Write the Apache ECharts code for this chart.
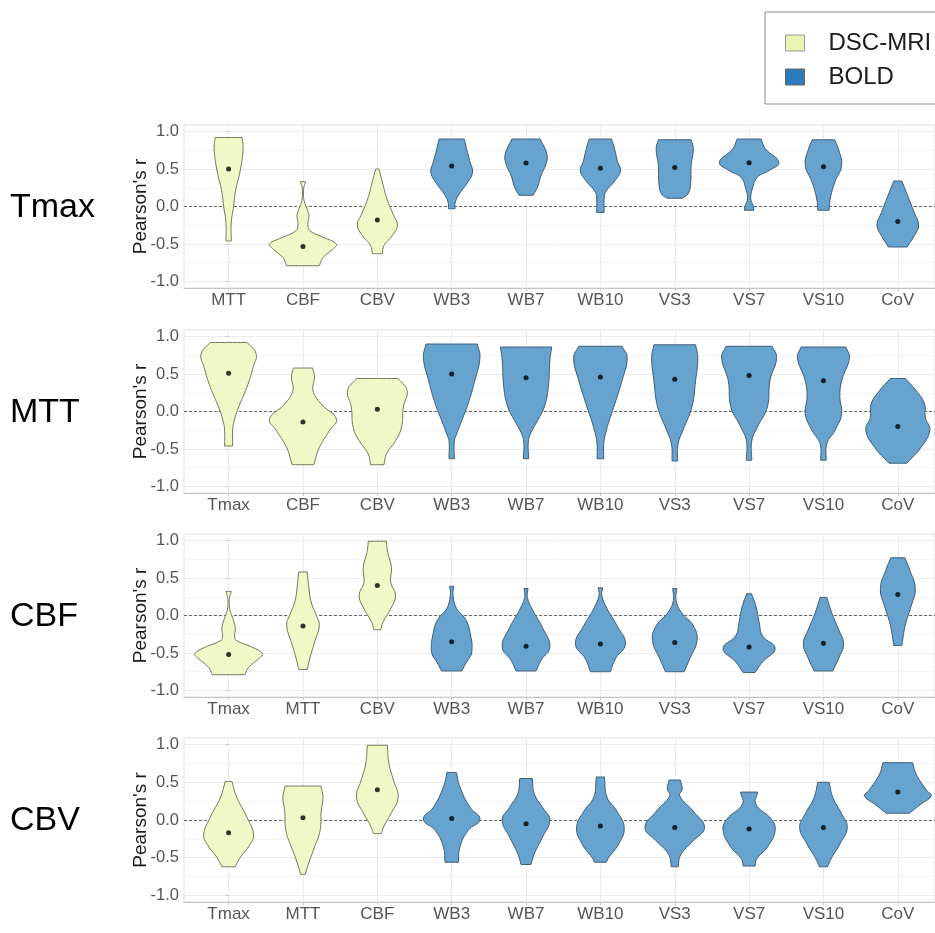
<!DOCTYPE html>
<html>
<head>
<meta charset="utf-8">
<title>Pearson's r violins</title>
<script src="https://cdn.jsdelivr.net/npm/echarts@6/dist/echarts.min.js"></script>
<style>
    html, body { margin: 0; padding: 0; background: #fff; }
    #main { width: 935px; height: 933px; }
</style>
</head>
<body>
<div id="main"></div>
<script>
// row titles, one per panel
var rowNames = ['Tmax', 'MTT', 'CBF', 'CBV'];
// x categories of each panel (first 3 are DSC-MRI, rest BOLD)
var catsTmax = ['MTT', 'CBF', 'CBV', 'WB3', 'WB7', 'WB10', 'VS3', 'VS7', 'VS10', 'CoV'];
var catsMTT = ['Tmax', 'CBF', 'CBV', 'WB3', 'WB7', 'WB10', 'VS3', 'VS7', 'VS10', 'CoV'];
var catsCBF = ['Tmax', 'MTT', 'CBV', 'WB3', 'WB7', 'WB10', 'VS3', 'VS7', 'VS10', 'CoV'];
var catsCBV = ['Tmax', 'MTT', 'CBF', 'WB3', 'WB7', 'WB10', 'VS3', 'VS7', 'VS10', 'CoV'];
var dscCount = 3;
var yTicks = [-1, -0.5, 0, 0.5, 1];
var yMinor = [-0.75, -0.25, 0.25, 0.75];

// violin outlines: [r, half width (category units)], top -> bottom
var violinTmax = [
    [[0.92, 0.18], [0.78, 0.195], [0.5, 0.16], [0.19, 0.09], [0, 0.067], [-0.21, 0.036], [-0.46, 0.036]],
    [[0.33, 0.036], [0.26, 0.013], [0.15, 0.007], [0.05, 0.022], [-0.03, 0.054], [-0.12, 0.08], [-0.23, 0.067], [-0.32, 0.09], [-0.41, 0.27], [-0.5, 0.45], [-0.57, 0.4], [-0.68, 0.27], [-0.79, 0.22]],
    [[0.5, 0.022], [0.33, 0.067], [0.1, 0.13], [-0.12, 0.22], [-0.25, 0.27], [-0.39, 0.2], [-0.52, 0.09], [-0.63, 0.067]],
    [[0.9, 0.17], [0.77, 0.2], [0.6, 0.245], [0.46, 0.28], [0.33, 0.22], [0.15, 0.09], [0.04, 0.045], [-0.03, 0.045]],
    [[0.9, 0.19], [0.7, 0.28], [0.57, 0.27], [0.41, 0.2], [0.26, 0.155], [0.15, 0.094]],
    [[0.9, 0.15], [0.77, 0.19], [0.6, 0.23], [0.48, 0.27], [0.35, 0.2], [0.19, 0.067], [0.1, 0.05], [-0.08, 0.05]],
    [[0.89, 0.22], [0.77, 0.25], [0.55, 0.22], [0.33, 0.215], [0.17, 0.18], [0.11, 0.1]],
    [[0.9, 0.16], [0.77, 0.22], [0.59, 0.4], [0.48, 0.27], [0.39, 0.11], [0.24, 0.045], [0.1, 0.022], [0.01, 0.054], [-0.05, 0.063]],
    [[0.89, 0.15], [0.77, 0.2], [0.55, 0.245], [0.33, 0.155], [0.1, 0.09], [-0.05, 0.076]],
    [[0.34, 0.054], [0.15, 0.13], [-0.08, 0.22], [-0.25, 0.28], [-0.39, 0.22], [-0.54, 0.125]]
];
var violinMTT = [
    [[0.92, 0.25], [0.77, 0.37], [0.59, 0.33], [0.32, 0.245], [0.06, 0.135], [-0.12, 0.076], [-0.25, 0.054], [-0.46, 0.054]],
    [[0.58, 0.13], [0.46, 0.155], [0.28, 0.135], [0.1, 0.245], [-0.1, 0.45], [-0.25, 0.36], [-0.48, 0.22], [-0.71, 0.145]],
    [[0.44, 0.28], [0.28, 0.4], [0.06, 0.35], [-0.21, 0.325], [-0.39, 0.245], [-0.56, 0.125], [-0.71, 0.09]],
    [[0.9, 0.345], [0.72, 0.38], [0.41, 0.31], [0.1, 0.22], [-0.12, 0.135], [-0.3, 0.067], [-0.39, 0.036], [-0.63, 0.036]],
    [[0.86, 0.345], [0.68, 0.32], [0.33, 0.3], [0.06, 0.245], [-0.12, 0.155], [-0.28, 0.067], [-0.41, 0.03], [-0.63, 0.036]],
    [[0.87, 0.29], [0.72, 0.36], [0.41, 0.29], [0.06, 0.18], [-0.25, 0.08], [-0.43, 0.045], [-0.63, 0.045]],
    [[0.89, 0.28], [0.72, 0.31], [0.41, 0.28], [0.06, 0.23], [-0.25, 0.11], [-0.43, 0.045], [-0.66, 0.036]],
    [[0.87, 0.31], [0.72, 0.37], [0.41, 0.28], [0.06, 0.245], [-0.21, 0.11], [-0.39, 0.036], [-0.65, 0.036]],
    [[0.86, 0.3], [0.72, 0.35], [0.41, 0.245], [0.19, 0.22], [-0.03, 0.245], [-0.25, 0.155], [-0.43, 0.045], [-0.65, 0.036]],
    [[0.44, 0.1], [0.28, 0.245], [0.1, 0.36], [-0.08, 0.37], [-0.25, 0.43], [-0.48, 0.31], [-0.69, 0.12]]
];
var violinCBF = [
    [[0.32, 0.036], [0.24, 0.013], [0.13, 0.009], [0.04, 0.027], [-0.07, 0.067], [-0.18, 0.09], [-0.27, 0.08], [-0.33, 0.1], [-0.42, 0.31], [-0.51, 0.455], [-0.58, 0.4], [-0.69, 0.27], [-0.79, 0.22]],
    [[0.58, 0.058], [0.4, 0.076], [0.18, 0.11], [0, 0.18], [-0.13, 0.22], [-0.36, 0.155], [-0.58, 0.09], [-0.72, 0.058]],
    [[0.99, 0.12], [0.84, 0.14], [0.64, 0.19], [0.44, 0.18], [0.27, 0.245], [0.09, 0.18], [-0.09, 0.076], [-0.19, 0.045]],
    [[0.39, 0.027], [0.27, 0.018], [0.09, 0.067], [-0.04, 0.18], [-0.22, 0.245], [-0.49, 0.27], [-0.62, 0.2], [-0.74, 0.135]],
    [[0.36, 0.027], [0.24, 0.018], [0.07, 0.09], [-0.16, 0.22], [-0.42, 0.32], [-0.6, 0.2], [-0.74, 0.135]],
    [[0.37, 0.031], [0.27, 0.018], [0.09, 0.09], [-0.13, 0.22], [-0.38, 0.335], [-0.58, 0.2], [-0.75, 0.135]],
    [[0.36, 0.027], [0.2, 0.018], [0.04, 0.09], [-0.13, 0.245], [-0.33, 0.3], [-0.58, 0.2], [-0.75, 0.125]],
    [[0.29, 0.031], [0.13, 0.09], [-0.09, 0.135], [-0.27, 0.18], [-0.44, 0.35], [-0.62, 0.18], [-0.76, 0.08]],
    [[0.24, 0.045], [0.04, 0.11], [-0.18, 0.2], [-0.38, 0.27], [-0.58, 0.2], [-0.74, 0.125]],
    [[0.77, 0.094], [0.62, 0.155], [0.36, 0.235], [0.13, 0.18], [-0.13, 0.1], [-0.4, 0.054]]
];
var violinCBV = [
    [[0.51, 0.045], [0.3, 0.11], [0.04, 0.245], [-0.19, 0.335], [-0.32, 0.29], [-0.5, 0.155], [-0.62, 0.09]],
    [[0.45, 0.24], [0.3, 0.27], [0.12, 0.245], [-0.14, 0.23], [-0.36, 0.155], [-0.56, 0.08], [-0.72, 0.031]],
    [[0.99, 0.135], [0.75, 0.155], [0.52, 0.22], [0.3, 0.28], [0.08, 0.18], [-0.08, 0.09], [-0.18, 0.054]],
    [[0.63, 0.063], [0.44, 0.11], [0.17, 0.245], [0.01, 0.38], [-0.14, 0.22], [-0.36, 0.11], [-0.56, 0.09]],
    [[0.55, 0.085], [0.35, 0.11], [0.17, 0.22], [0, 0.32], [-0.23, 0.22], [-0.45, 0.11], [-0.59, 0.067]],
    [[0.57, 0.054], [0.3, 0.09], [0.12, 0.22], [-0.1, 0.32], [-0.32, 0.245], [-0.5, 0.11], [-0.56, 0.08]],
    [[0.53, 0.076], [0.41, 0.1], [0.32, 0.067], [0.12, 0.245], [-0.1, 0.4], [-0.28, 0.245], [-0.46, 0.08], [-0.62, 0.045]],
    [[0.37, 0.115], [0.21, 0.09], [0.01, 0.3], [-0.14, 0.35], [-0.36, 0.245], [-0.52, 0.1], [-0.61, 0.08]],
    [[0.5, 0.076], [0.3, 0.125], [0.08, 0.245], [-0.1, 0.32], [-0.32, 0.22], [-0.5, 0.11], [-0.62, 0.054]],
    [[0.76, 0.2], [0.61, 0.245], [0.39, 0.39], [0.32, 0.45], [0.21, 0.31], [0.09, 0.155]]
];
// centre dots
var meanTmax = [0.50, -0.535, -0.18, 0.54, 0.58, 0.51, 0.52, 0.585, 0.53, -0.2];
var meanMTT = [0.51, -0.14, 0.03, 0.5, 0.45, 0.46, 0.43, 0.48, 0.41, -0.2];
var meanCBF = [-0.52, -0.14, 0.4, -0.35, -0.41, -0.38, -0.36, -0.42, -0.37, 0.28];
var meanCBV = [-0.17, 0.03, 0.4, 0.02, -0.05, -0.08, -0.1, -0.12, -0.1, 0.37];

var panels = [
    { cats: catsTmax, violins: violinTmax, means: meanTmax },
    { cats: catsMTT, violins: violinMTT, means: meanMTT },
    { cats: catsCBF, violins: violinCBF, means: meanCBF },
    { cats: catsCBV, violins: violinCBV, means: meanCBV }
];
var gridTops = [125, 330, 534, 738];
var gridHeights = [163, 163, 163, 164];

var fontFam = '"Liberation Sans", Arial, sans-serif';
var dscFill = '#f1f8c8', dscLine = '#74785c';
var boldFill = '#66a3cf', boldLine = '#3e5d77';

var myChart = echarts.init(document.getElementById('main'));

function violinRender(shapes) {
    return function (params, api) {
        var idx = api.value(0);
        var prof = shapes[idx];
        var n = prof.length;
        var left = [], right = [];
        for (var i = 0; i < n; i++) {
            left.push(api.coord([idx - prof[i][1], prof[i][0]]));
            right.push(api.coord([idx + prof[i][1], prof[i][0]]));
        }
        right.reverse();
        // doubled end points keep the trimmed ends flat
        var pts = [left[0]].concat(left, [left[n - 1]], [right[0]], right, [right[n - 1]]);
        return {
            type: 'polygon',
            shape: { points: pts, smooth: 0.45 },
            style: api.style()
        };
    };
}

var grids = [], xAxes = [], yAxes = [], series = [], texts = [];
var xTicks = [0, 1, 2, 3, 4, 5, 6, 7, 8, 9];

panels.forEach(function (p, k) {
    grids.push({
        left: 184, width: 752, top: gridTops[k], height: gridHeights[k],
        show: true, borderColor: '#dedede', borderWidth: 1
    });
    xAxes.push({
        type: 'value', gridIndex: k, min: -0.6, max: 9.5,
        axisLine: { show: true, onZero: false, lineStyle: { color: '#c4c4c4' } },
        axisTick: { show: true, customValues: xTicks, length: 3, lineStyle: { color: '#c4c4c4' } },
        axisLabel: {
            customValues: xTicks, margin: 4, fontSize: 17, color: '#555', fontFamily: fontFam,
            formatter: function (v) { return p.cats[Math.round(v)]; }
        },
        splitLine: { show: false }
    });
    yAxes.push({
        type: 'value', gridIndex: k, min: -1.087, max: 1.087,
        name: "Pearson's r", nameLocation: 'middle', nameGap: 34, nameMoveOverlap: false,
        nameTextStyle: { fontSize: 19, color: '#1a1a1a', fontFamily: fontFam },
        axisLine: { show: false },
        axisTick: { show: true, customValues: yTicks, length: 3, lineStyle: { color: '#c4c4c4' } },
        axisLabel: {
            customValues: yTicks, margin: 5, fontSize: 16.5, color: '#555', fontFamily: fontFam,
            formatter: function (v) { return v.toFixed(1); }
        },
        splitLine: { show: false }
    });

    // grid lines + dashed zero line (kept below the violins)
    var lines = [];
    yMinor.forEach(function (v) { lines.push({ yAxis: v, lineStyle: { color: '#f3f3f3', width: 1, type: 'solid' } }); });
    yTicks.forEach(function (v) { lines.push({ yAxis: v, lineStyle: { color: '#ebebeb', width: 1, type: 'solid' } }); });
    xTicks.forEach(function (v) { lines.push({ xAxis: v, lineStyle: { color: '#ebebeb', width: 1, type: 'solid' } }); });
    lines.push({ yAxis: 0, lineStyle: { color: '#666', width: 1, type: [3, 2] } });
    series.push({
        type: 'scatter', xAxisIndex: k, yAxisIndex: k, data: [], z: 0, silent: true,
        markLine: { z: 0, silent: true, symbol: ['none', 'none'], label: { show: false }, animation: false, data: lines }
    });

    var dscData = [], boldData = [];
    for (var i = 0; i < p.cats.length; i++) {
        if (i < dscCount) dscData.push([i]); else boldData.push([i]);
    }
    series.push({
        name: 'DSC-MRI', type: 'custom', xAxisIndex: k, yAxisIndex: k, z: 2,
        itemStyle: { color: dscFill, borderColor: dscLine, borderWidth: 1 },
        renderItem: violinRender(p.violins), data: dscData, silent: true
    });
    series.push({
        name: 'BOLD', type: 'custom', xAxisIndex: k, yAxisIndex: k, z: 2,
        itemStyle: { color: boldFill, borderColor: boldLine, borderWidth: 1 },
        renderItem: violinRender(p.violins), data: boldData, silent: true
    });
    series.push({
        type: 'scatter', xAxisIndex: k, yAxisIndex: k, z: 3, silent: true,
        symbolSize: 5, itemStyle: { color: '#000', borderWidth: 0 },
        data: p.means.map(function (m, i) { return [i, m]; })
    });

    texts.push({
        type: 'text', left: 55 - 45, top: gridTops[k] + gridHeights[k] / 2 - 16,
        style: { text: rowNames[k], x: 45, y: 20, fontSize: 34, fill: '#000', fontFamily: fontFam, align: 'center', verticalAlign: 'middle' }
    });
});

var option = {
    animation: false,
    backgroundColor: '#fff',
    legend: {
        orient: 'vertical', left: 765, top: 12,
        borderColor: '#8c8c8c', borderWidth: 1, borderRadius: 0,
        padding: [19, 16, 15, 20],
        itemWidth: 19, itemHeight: 16, itemGap: 10,
        textStyle: { fontSize: 24, color: '#1a1a1a', fontFamily: fontFam, padding: [0, 0, 0, 19] },
        data: [
            { name: 'DSC-MRI', icon: 'rect', itemStyle: { color: '#eaf4b6', borderColor: '#9a9a9a', borderWidth: 1 } },
            { name: 'BOLD', icon: 'rect', itemStyle: { color: '#2d7bbd', borderColor: '#666', borderWidth: 1 } }
        ],
        selectedMode: false
    },
    grid: grids,
    xAxis: xAxes,
    yAxis: yAxes,
    graphic: texts,
    series: series
};

myChart.setOption(option);
</script>
</body>
</html>
